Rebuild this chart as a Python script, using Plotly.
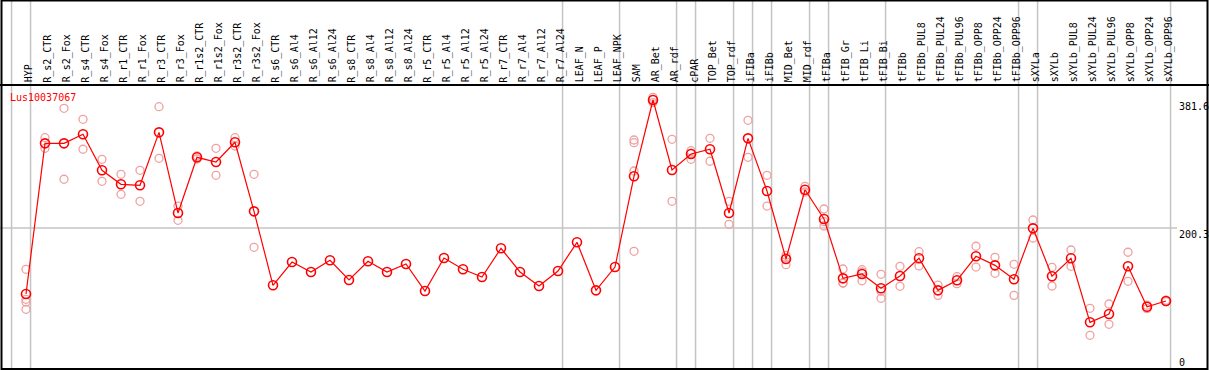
import plotly.graph_objects as go

categories = [
    "HYP", "R_s2_CTR", "R_s2_Fox", "R_s4_CTR", "R_s4_Fox", "R_r1_CTR", "R_r1_Fox",
    "R_r3_CTR", "R_r3_Fox", "R_r1s2_CTR", "R_r1s2_Fox", "R_r3s2_CTR", "R_r3s2_Fox",
    "R_s6_CTR", "R_s6_Al4", "R_s6_Al12", "R_s6_Al24", "R_s8_CTR", "R_s8_Al4",
    "R_s8_Al12", "R_s8_Al24", "R_r5_CTR", "R_r5_Al4", "R_r5_Al12", "R_r5_Al24",
    "R_r7_CTR", "R_r7_Al4", "R_r7_Al12", "R_r7_Al24", "LEAF_N", "LEAF_P", "LEAF_NPK",
    "SAM", "AR_Bet", "AR_rdf", "cPAR", "TOP_Bet", "TOP_rdf", "iFIBa", "iFIBb",
    "MID_Bet", "MID_rdf", "tFIBa", "tFIB_Gr", "tFIB_Li", "tFIB_Bi", "tFIBb",
    "tFIBb_PUL8", "tFIBb_PUL24", "tFIBb_PUL96", "tFIBb_OPP8", "tFIBb_OPP24",
    "tFIBb_OPP96", "sXYLa", "sXYLb", "sXYLb_PUL8", "sXYLb_PUL24", "sXYLb_PUL96",
    "sXYLb_OPP8", "sXYLb_OPP24", "sXYLb_OPP96",
]

mean_values = [
    106.8, 320.2, 320.2, 333.0, 282.0, 262.2, 260.8, 335.8, 221.5, 300.4, 293.8,
    321.7, 223.9, 119.1, 152.1, 138.0, 154.5, 126.6, 153.1, 138.0, 149.3, 111.0,
    157.8, 141.8, 130.9, 171.5, 138.0, 118.1, 139.4, 180.0, 112.0, 145.0, 273.5,
    381.6, 282.4, 305.1, 311.8, 221.5, 327.3, 252.7, 156.4, 254.5, 213.0, 129.0,
    135.1, 114.9, 132.3, 157.4, 112.0, 126.2, 160.2, 147.4, 127.6, 199.8, 131.9,
    157.4, 66.7, 78.5, 146.0, 88.8, 96.9,
]

N = None
rep_a = [141.8, 328.2, 369.8, 354.2, 297.6, 276.3, 282.0, 372.1, 231.4, 302.3, 313.2,
         328.2, 276.3, N, N, N, N, N, N, N, N, N, N, N, N, N, N, N, N, N, N, N,
         324.9, 385.4, 325.9, 309.8, 327.3, 238.1, 352.8, 274.9, 161.6, 259.3, 227.2,
         142.2, 141.2, 134.7, 146.0, 166.7, 119.5, 131.3, 174.4, 158.8, 148.9, 211.6,
         144.6, 169.1, 86.5, 92.6, 165.9, 91.0, 98.0]
rep_b = [99.3, 313.2, 269.3, 311.8, 266.4, 248.0, 238.1, 299.0, 211.2, 298.0, 274.9,
         316.4, 172.9, N, N, N, N, N, N, N, N, N, N, N, N, N, N, N, N, N, N, N,
         321.1, 382.6, 238.1, 306.0, 294.8, 205.5, 300.4, 231.4, 158.0, 251.3, 209.2,
         122.8, 138.0, 110.6, 117.7, 146.5, 104.9, 121.4, 145.0, 136.1, 104.9, 186.1,
         118.1, 146.0, 48.3, 63.9, 124.8, 86.0, 96.0]
rep_c = [95.5, N, N, N, N, N, N, N, N, N, N, N, N, N, N, N, N, N, N, N, N, N, N, N,
         N, N, N, N, N, N, N, N,
         281.0, 378.0, N, 297.6, N, N, N, N, 148.3, N, 203.1,
         122.0, 125.6, 100.7, N, N, N, N, N, N, N, N, N, N, N, N, N, N, N]
rep_d = [85.1, N, N, N, N, N, N, N, N, N, N, N, N, N, N, N, N, N, N, N, N, N, N, N,
         N, N, N, N, N, N, N, N,
         167.3, N, N, N, N, N, N, N, N, N, N,
         N, N, N, N, N, N, N, N, N, N, N, N, N, N, N, N, N, N]

# indices of the last category in each group (separator drawn just after)
group_ends = [-1, 0, 28, 31, 34, 35, 37, 38, 39, 41, 42, 45, 52, 53, 60]

axis_values = [381.6, 200.3, 0]
gene_name = "Lus10037067"

W, H = 1209, 370
HEADER = 85
idx = list(range(len(categories)))
MONO = "DejaVu Sans Mono"

fig = go.Figure()

for reps in (rep_a, rep_b, rep_c, rep_d):
    fig.add_trace(go.Scatter(
        x=idx, y=reps, mode="markers",
        marker=dict(symbol="circle-open", size=8, color="#f0a0a0",
                    line=dict(width=1.3, color="#f0a0a0")),
        showlegend=False, hoverinfo="y",
    ))

fig.add_trace(go.Scatter(
    x=idx, y=mean_values, mode="lines+markers",
    line=dict(color="#ff0000", width=1.2),
    marker=dict(symbol="circle-open", size=9, color="#ff0000",
                line=dict(width=1.6, color="#ff0000")),
    showlegend=False, hoverinfo="y",
))

x0 = -26 / 19
x1 = x0 + W / 19
shapes = []
for g in group_ends:
    shapes.append(dict(type="line", xref="x", yref="paper", x0=g + 0.24, x1=g + 0.24,
                       y0=0, y1=1, line=dict(color="#c4c4c4", width=1.5), layer="below"))
shapes.append(dict(type="line", xref="paper", yref="y", x0=0, x1=1177 / W,
                   y0=axis_values[1], y1=axis_values[1],
                   line=dict(color="#c4c4c4", width=1.5), layer="below"))
# header separator
shapes.append(dict(type="line", xref="paper", yref="paper", x0=0, x1=1,
                   y0=(H - HEADER) / H, y1=(H - HEADER) / H,
                   line=dict(color="black", width=2)))
# frame
shapes.append(dict(type="rect", xref="paper", yref="paper",
                   x0=1.5 / W, x1=1207.5 / W, y0=1 / H, y1=1 - 0.5 / H,
                   line=dict(color="black", width=2)))

annotations = [dict(text=gene_name, xref="paper", yref="paper", x=8 / W,
                    y=(H - 97) / H, xanchor="left", yanchor="middle", showarrow=False,
                    font=dict(family=MONO, size=10, color="#ff0000"))]
for v in axis_values:
    annotations.append(dict(text=("%g" % v), xref="paper", yref="y", x=1178 / W, y=v,
                            xanchor="left", yanchor=("bottom" if v == 0 else "top"),
                            showarrow=False, borderpad=0,
                            font=dict(family=MONO, size=10, color="black")))
for i, c in zip(idx, categories):
    annotations.append(dict(text=c, xref="x", yref="paper", x=i + 0.15,
                            y=(H - HEADER + 1.5) / H, xanchor="center", yanchor="bottom",
                            textangle=-90, showarrow=False, borderpad=0,
                            font=dict(family=MONO, size=10, color="black")))

plot_bottom_v = -0.85
scale = 0.706
plot_top_v = plot_bottom_v + (H - HEADER) / scale

fig.update_layout(
    width=W, height=H, margin=dict(l=0, r=0, t=0, b=0),
    paper_bgcolor="white", plot_bgcolor="white",
    xaxis=dict(range=[x0, x1], domain=[0, 1], showticklabels=False,
               showgrid=False, zeroline=False, showline=False, ticks="",
               automargin=False, fixedrange=True),
    yaxis=dict(range=[plot_bottom_v, plot_top_v], domain=[0, (H - HEADER) / H],
               showticklabels=False, showgrid=False, zeroline=False, showline=False,
               automargin=False, fixedrange=True),
    shapes=shapes, annotations=annotations,
)

fig.write_html("out.html", config={"displayModeBar": False},
               post_script="document.body.style.margin='0';document.body.style.overflow='hidden';")
